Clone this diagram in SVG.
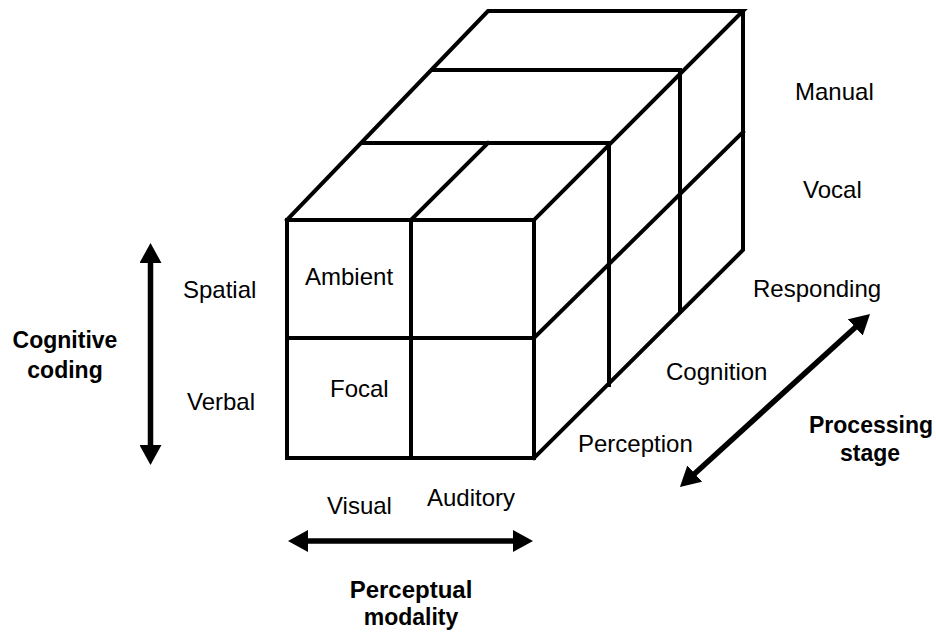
<svg xmlns="http://www.w3.org/2000/svg" width="936" height="632" viewBox="0 0 936 632">
  <style>
    .edge { fill: none; stroke: #000; stroke-width: 4; stroke-linejoin: miter; stroke-linecap: square; }
    .axis { fill: none; stroke: #000; stroke-width: 5.5; }
    .lbl { font-family: "Liberation Sans", Arial, Helvetica, sans-serif; font-size: 24px; fill: #000; }
    .title { font-family: "Liberation Sans", Arial, Helvetica, sans-serif; font-size: 23px; font-weight: bold; fill: #000; text-anchor: middle; }
  </style>
  <defs>
    <marker id="head" viewBox="0 0 20 22" markerUnits="userSpaceOnUse" markerWidth="20" markerHeight="22" refX="1" refY="11" orient="auto-start-reverse">
      <path d="M0,0 L20,11 L0,22 Z" fill="#000"/>
    </marker>
  </defs>
  <rect width="936" height="632" fill="#fff"/>

  <!-- cube: 2 x 2 x 3 grid of cells -->
  <g id="cube">
    <g id="top-face">
      <polyline class="edge" points="287,220 488,11 743,11 534,220"/>
      <line class="edge" x1="362" y1="143" x2="609" y2="143"/>
      <line class="edge" x1="432" y1="70" x2="680" y2="70"/>
      <line class="edge" x1="411" y1="220" x2="488" y2="143"/>
    </g>
    <g id="side-face">
      <polyline class="edge" points="743,11 743,250 534,458"/>
      <line class="edge" x1="609" y1="143" x2="609" y2="385"/>
      <line class="edge" x1="680" y1="70" x2="680" y2="310"/>
      <line class="edge" x1="534" y1="338" x2="743" y2="132"/>
    </g>
    <g id="front-face">
      <rect class="edge" x="287" y="220" width="247" height="238"/>
      <line class="edge" x1="411" y1="220" x2="411" y2="458"/>
      <line class="edge" x1="287" y1="338" x2="534" y2="338"/>
    </g>
  </g>

  <!-- cell and level labels -->
  <g id="cell-ambient"><text class="lbl" x="305" y="285">Ambient</text></g>
  <g id="cell-focal"><text class="lbl" x="330" y="397">Focal</text></g>
  <g id="level-spatial"><text class="lbl" x="183" y="298">Spatial</text></g>
  <g id="level-verbal"><text class="lbl" x="187" y="410">Verbal</text></g>
  <g id="level-visual"><text class="lbl" x="327" y="514">Visual</text></g>
  <g id="level-auditory"><text class="lbl" x="427" y="506">Auditory</text></g>
  <g id="level-perception"><text class="lbl" x="578" y="452">Perception</text></g>
  <g id="level-cognition"><text class="lbl" x="666" y="380">Cognition</text></g>
  <g id="level-responding"><text class="lbl" x="753" y="297">Responding</text></g>
  <g id="level-manual"><text class="lbl" x="795" y="100">Manual</text></g>
  <g id="level-vocal"><text class="lbl" x="803" y="198">Vocal</text></g>

  <!-- dimension titles -->
  <g id="dim-coding">
    <text class="title" x="65" y="348">Cognitive</text>
    <text class="title" x="65" y="378">coding</text>
  </g>
  <g id="dim-modality">
    <text class="title" x="411" y="598" style="font-size:24px">Perceptual</text>
    <text class="title" x="411" y="625">modality</text>
  </g>
  <g id="dim-stage">
    <text class="title" x="871" y="433">Processing</text>
    <text class="title" x="870" y="461">stage</text>
  </g>

  <!-- double-headed axis arrows -->
  <g id="axes">
    <line class="axis" x1="150.5" y1="262" x2="150.5" y2="446" marker-start="url(#head)" marker-end="url(#head)"/>
    <line class="axis" x1="307" y1="541" x2="514" y2="541" marker-start="url(#head)" marker-end="url(#head)"/>
    <line class="axis" x1="694" y1="474.2" x2="856" y2="326.8" marker-start="url(#head)" marker-end="url(#head)"/>
  </g>
</svg>
